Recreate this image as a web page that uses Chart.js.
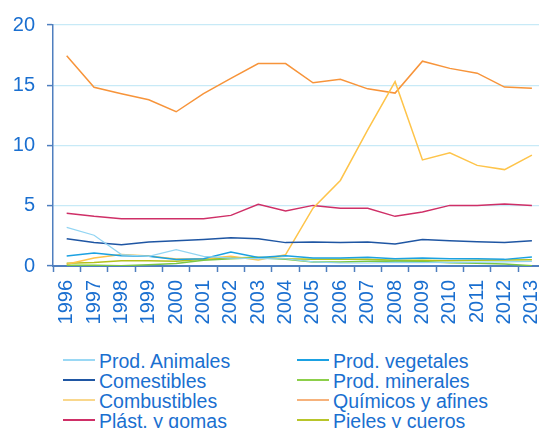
<!DOCTYPE html>
<html>
<head>
<meta charset="utf-8">
<script src="https://cdn.jsdelivr.net/npm/chart.js@4.4.1/dist/chart.umd.min.js"></script>
<style>
  html, body { margin: 0; padding: 0; background: #fff; }
  body { width: 539px; height: 428px; overflow: hidden; position: relative; font-family: "Liberation Sans", Arial, sans-serif; }
  #wrap { position: absolute; left: 0; top: 0; width: 564px; height: 340px; }
  #legend { position: absolute; left: 63px; top: 351px; width: 480px; }
  .item { position: absolute; height: 20px; line-height: 20px; font-size: 19.5px; color: #1a6fd0; white-space: nowrap; }
  .item span.swatch { position: absolute; left: 0; top: 8px; width: 32px; height: 2px; }
  .item span.txt { position: absolute; left: 36px; top: 0; }
</style>
</head>
<body>
<div id="wrap"><canvas id="chart"></canvas></div>
<div id="legend"></div>
<script>
const years = ['1996','1997','1998','1999','2000','2001','2002','2003','2004','2005','2006','2007','2008','2009','2010','2011','2012','2013'];
const yTicks = [0, 5, 10, 15, 20];

const animales     = [3.2, 2.55, 0.95, 0.8, 1.35, 0.8, 0.65, 0.62, 0.6, 0.35, 0.25, 0.25, 0.3, 0.28, 0.3, 0.32, 0.35, 0.39];
const vegetales    = [0.83, 1.08, 0.86, 0.8, 0.53, 0.6, 1.16, 0.7, 0.85, 0.66, 0.66, 0.72, 0.6, 0.66, 0.6, 0.6, 0.55, 0.75];
const comestibles  = [2.27, 1.95, 1.76, 1.99, 2.1, 2.2, 2.35, 2.27, 1.94, 1.99, 1.94, 1.99, 1.83, 2.19, 2.1, 2.02, 1.94, 2.1];
const minerales    = [0.06, 0.06, 0.03, 0.1, 0.2, 0.47, 0.6, 0.68, 0.55, 0.33, 0.33, 0.39, 0.42, 0.38, 0.28, 0.22, 0.17, 0.03];
const combustibles = [0.15, 0.66, 0.95, 0.83, 0.58, 0.6, 0.8, 0.5, 0.94, 4.8, 7.1, 11.3, 15.3, 8.8, 9.4, 8.35, 8.0, 9.2];
const quimicos     = [17.45, 14.83, 14.3, 13.8, 12.8, 14.3, 15.57, 16.8, 16.8, 15.2, 15.5, 14.7, 14.35, 17.0, 16.4, 16.0, 14.85, 14.75];
const plast        = [4.37, 4.12, 3.93, 3.93, 3.93, 3.93, 4.2, 5.12, 4.56, 5.03, 4.79, 4.79, 4.12, 4.48, 5.03, 5.03, 5.15, 5.03];
const pieles       = [0.22, 0.3, 0.44, 0.44, 0.39, 0.55, 0.66, 0.72, 0.6, 0.55, 0.55, 0.55, 0.47, 0.47, 0.44, 0.47, 0.5, 0.52];

const seriesNames  = ['Prod. Animales', 'Prod. vegetales', 'Comestibles', 'Prod. minerales', 'Combustibles', 'Químicos y afines', 'Plást. y gomas', 'Pieles y cueros'];
const seriesData   = [animales, vegetales, comestibles, minerales, combustibles, quimicos, plast, pieles];
const seriesColors = ['#92d5f3', '#1ba1e2', '#1f56a3', '#7cc744', '#fec44a', '#f7943a', '#cf2f67', '#b3c01c'];
const legendColors = ['#9ad8f4', '#1ba1e2', '#1f56a3', '#8ccf4a', '#f9d78c', '#f6b27c', '#cf2f67', '#b8c52a'];

const blue = '#1a6fd0';
const axisColor = '#4f7fbf';

const datasets = seriesNames.map((name, i) => ({
  label: name,
  data: seriesData[i],
  borderColor: seriesColors[i],
  backgroundColor: seriesColors[i],
  borderWidth: i === 0 ? 1.2 : 1.5,
  pointRadius: 0,
  tension: 0,
  fill: false
}));

new Chart(document.getElementById('chart'), {
  type: 'line',
  data: { labels: years, datasets: datasets },
  options: {
    responsive: true,
    maintainAspectRatio: false,
    animation: false,
    layout: { padding: { top: 25, right: 3, left: 0, bottom: 0 } },
    plugins: { legend: { display: false }, tooltip: { enabled: false } },
    scales: {
      x: {
        type: 'category',
        offset: true,
        grid: { offset: true, drawOnChartArea: false, tickLength: 6, tickColor: axisColor, tickWidth: 1.5 },
        border: { color: axisColor, width: 2 },
        ticks: {
          color: blue,
          minRotation: 90,
          maxRotation: 90,
          autoSkip: false,
          padding: 8,
          font: { family: '"Liberation Sans", Arial, sans-serif', size: 20 }
        },
        afterFit: (scale) => { scale.height = 74; }
      },
      y: {
        min: 0,
        max: 20,
        afterBuildTicks: (scale) => { scale.ticks = yTicks.map(v => ({ value: v })); },
        grid: { color: '#c8eaf7', lineWidth: 1.2, tickLength: 6, tickColor: axisColor, tickWidth: 1.5 },
        border: { color: axisColor, width: 1.5 },
        ticks: {
          color: blue,
          padding: 12,
          font: { family: '"Liberation Sans", Arial, sans-serif', size: 20 }
        },
        afterFit: (scale) => { scale.width = 53; }
      }
    }
  }
});

// two-column legend under the chart, rows filled left to right
const legend = document.getElementById('legend');
seriesNames.forEach((name, i) => {
  const div = document.createElement('div');
  div.className = 'item';
  div.style.left = (i % 2 === 0 ? 0 : 234) + 'px';
  div.style.top = (Math.floor(i / 2) * 20) + 'px';
  div.innerHTML = '<span class="swatch" style="background:' + legendColors[i] + '"></span><span class="txt"></span>';
  div.querySelector('.txt').textContent = name;
  legend.appendChild(div);
});
</script>
</body>
</html>
